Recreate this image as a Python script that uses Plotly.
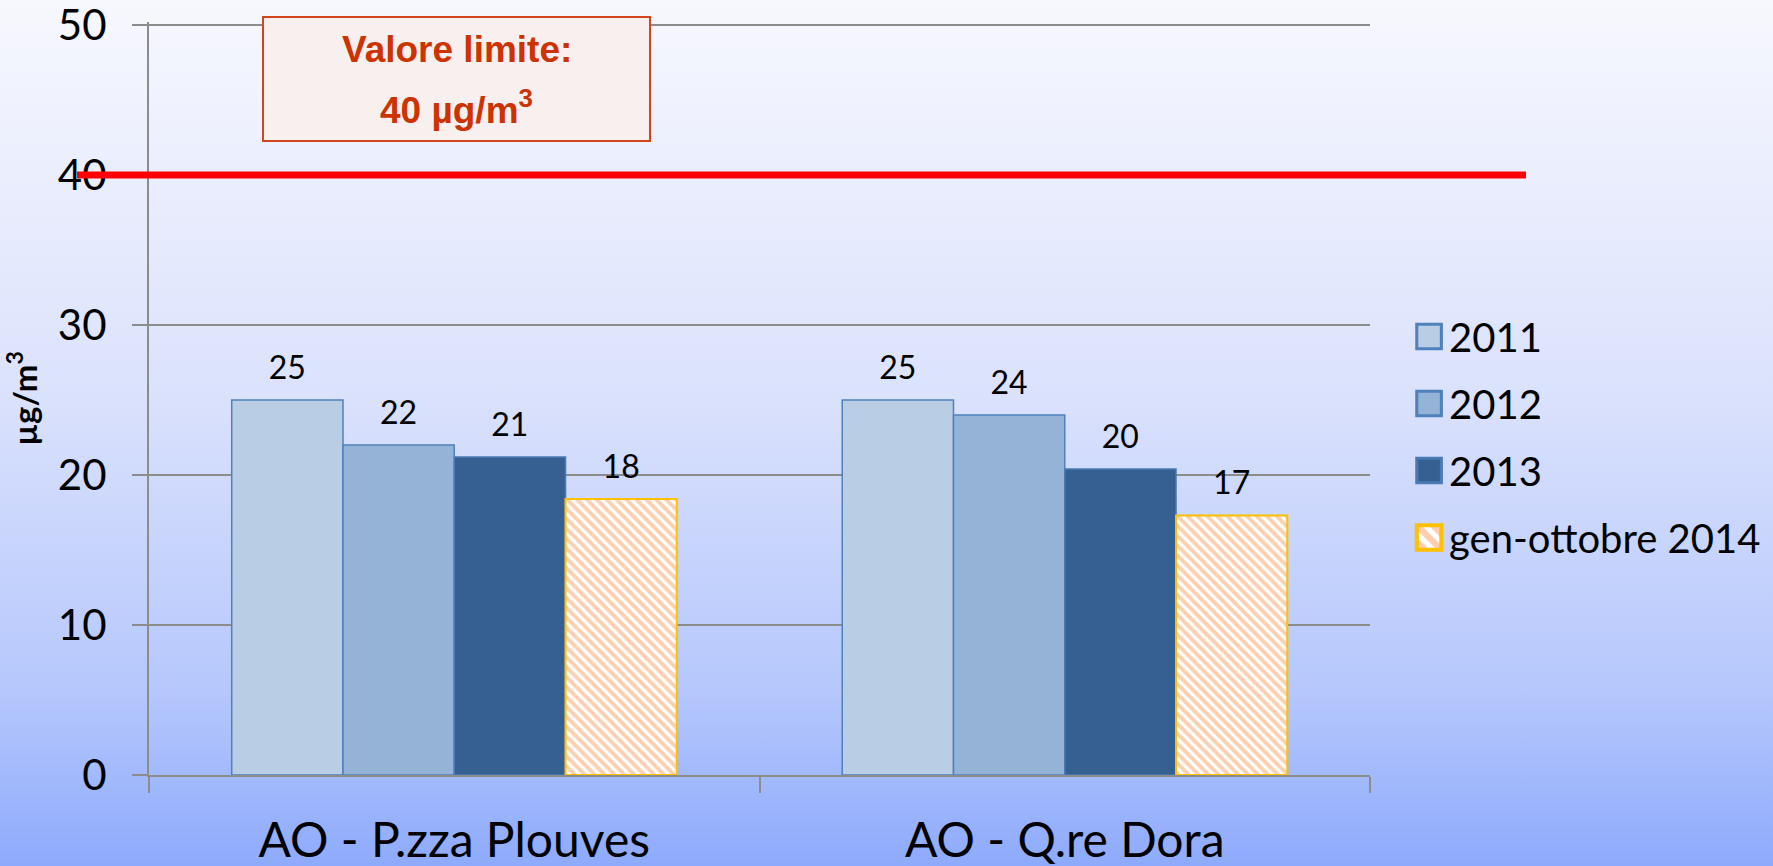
"""PM10/NO2 annual mean bars vs. limit value, rebuilt with Plotly."""

import base64
import plotly.graph_objects as go

# --- data -----------------------------------------------------------------
stations = ["AO - P.zza Plouves", "AO - Q.re Dora"]
periods = ["2011", "2012", "2013", "gen-ottobre 2014"]
val_2011 = [25.0, 25.0]
val_2012 = [22.0, 24.0]
val_2013 = [21.2, 20.4]
val_2014 = [18.4, 17.3]
limit_value = 40
y_ticks = [0, 10, 20, 30, 40, 50]

series = [val_2011, val_2012, val_2013, val_2014]

# --- styling ----------------------------------------------------------------
W, H = 1773, 866
M_L, M_R, M_T, M_B = 149, 403, 22, 91
Y_MAX = 50.2  # a hair above 50 so the top gridline is kept
FONT = "Lato, Carlito, Calibri, sans-serif"
BOX_FONT = "Liberation Sans Narrow, Liberation Sans, Arial, sans-serif"
GRID = "#8c8c8c"
fills = ["#b9cde5", "#95b3d7", "#366092", "#ffffff"]
lines = ["#4f81bd", "#4f81bd", "#4a7ab5", "#ffc000"]

plot_w = W - M_L - M_R
plot_h = H - M_T - M_B

fig = go.Figure()

for i, (name, vals) in enumerate(zip(periods, series)):
    marker = dict(color=fills[i], line=dict(color=lines[i], width=2 if i == 3 else 1.5))
    if i == 3:
        marker["pattern"] = dict(shape="\\", fgcolor="#f8a060", bgcolor="#ffffff",
                                 size=7, solidity=0.55, fillmode="overlay")
    fig.add_trace(go.Bar(
        x=stations, y=vals, name=name, marker=marker,
        offsetgroup=str(i), alignmentgroup="a",
        legendgroup=name, hoverinfo="skip",
    ))

# value labels, grouped like the bars
for i, vals in enumerate(series):
    fig.add_trace(go.Scatter(
        x=stations, y=vals, mode="markers+text",
        marker=dict(size=20, opacity=0),
        text=[f"{v:.0f}" for v in vals], textposition="top center",
        textfont=dict(family=FONT, size=32, color="#000000"),
        offsetgroup=str(i), alignmentgroup="a",
        showlegend=False, hoverinfo="skip", cliponaxis=False,
    ))

# limit line
fig.add_shape(type="line", xref="paper", yref="y",
              x0=-72 / plot_w, x1=1 + 156 / plot_w,
              y0=limit_value, y1=limit_value,
              line=dict(color="#ff0000", width=7), layer="above")


# limit label box (pixel box 263..650 x 17..141 of the page)
def px_x(p):
    return (p - M_L) / plot_w


def px_y(p):
    return (H - M_B - p) / plot_h


fig.add_shape(type="rect", xref="paper", yref="paper",
              x0=px_x(263), x1=px_x(650), y0=px_y(141), y1=px_y(17),
              line=dict(color="#d0451b", width=2), fillcolor="#f8f0ef", layer="above")
fig.add_annotation(
    xref="paper", yref="paper", x=px_x(456.5), y=px_y(50),
    xanchor="center", yanchor="middle", showarrow=False,
    text="<b>Valore limite:</b>",
    font=dict(family=BOX_FONT, size=37, color="#cc3300"),
)
fig.add_annotation(
    xref="paper", yref="paper", x=px_x(456.5), y=px_y(107),
    xanchor="center", yanchor="middle", showarrow=False,
    text=f"<b>{limit_value} µg/m<sup>3</sup></b>",
    font=dict(family=BOX_FONT, size=37, color="#cc3300"),
)

# gradient backdrop over the whole page
svg = (
    f'<svg xmlns="http://www.w3.org/2000/svg" width="{W}" height="{H}" '
    'preserveAspectRatio="none"><defs><linearGradient id="g" x1="0" y1="0" x2="0" y2="1">'
    '<stop offset="0" stop-color="#f7f8fe"/><stop offset="0.45" stop-color="#dbe2fc"/>'
    '<stop offset="0.8" stop-color="#b5c7fc"/><stop offset="1" stop-color="#8eaafc"/>'
    f'</linearGradient></defs><rect width="{W}" height="{H}" fill="url(#g)"/></svg>'
)
fig.add_layout_image(
    source="data:image/svg+xml;base64," + base64.b64encode(svg.encode()).decode(),
    xref="paper", yref="paper",
    x=-M_L / plot_w, y=1 + M_T / plot_h,
    sizex=W / plot_w, sizey=H / plot_h,
    xanchor="left", yanchor="top", sizing="stretch", layer="below",
)

fig.update_layout(
    width=W, height=H,
    margin=dict(l=M_L, r=M_R, t=M_T, b=M_B, autoexpand=False),
    paper_bgcolor="#c8d4fc", plot_bgcolor="rgba(0,0,0,0)",
    barmode="group", bargap=0.271, bargroupgap=0,
    scattermode="group", scattergap=0.271,
    font=dict(family=FONT, color="#000000"),
    showlegend=True,
    legend=dict(
        x=1.032, xanchor="left", y=px_y(304), yanchor="top",
        font=dict(family=FONT, size=40),
        bgcolor="rgba(0,0,0,0)", tracegroupgap=12,
    ),
    xaxis=dict(
        type="category", ticks="outside", tickson="boundaries",
        ticklen=16, tickwidth=2, tickcolor=GRID,
        showline=True, linecolor=GRID, linewidth=2,
        tickfont=dict(family=FONT, size=48), ticklabelstandoff=22,
        showgrid=False, automargin=False,
    ),
    yaxis=dict(
        range=[0, Y_MAX], tickvals=y_ticks,
        ticks="outside", ticklen=15, tickwidth=2, tickcolor=GRID,
        showline=True, linecolor=GRID, linewidth=2,
        showgrid=True, gridcolor=GRID, gridwidth=2, zeroline=False,
        tickfont=dict(family=FONT, size=42), ticklabelstandoff=17,
        ticklabeloverflow="allow",
        title=dict(text="<b>µg/m<sup>3</sup></b>", font=dict(family=FONT, size=33),
                   standoff=10),
        automargin=False,
    ),
)

post = """
document.body.style.margin = '0';
document.body.style.overflow = 'hidden';
var gd = document.getElementById('{plot_id}');
gd.querySelectorAll('.legend .legendpoints path').forEach(function (p) {
    var t = p.getAttribute('transform') || '';
    p.setAttribute('transform', t + ' scale(2.05)');
});
"""

fig.write_html("out.html", post_script=post, config={"displayModeBar": False})
